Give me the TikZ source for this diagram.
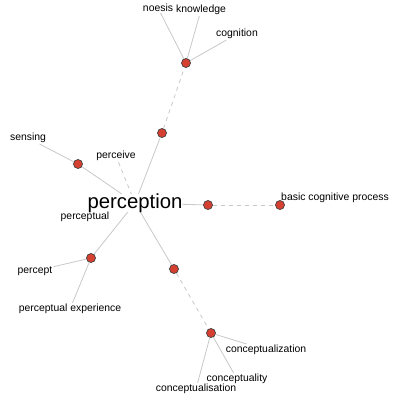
\documentclass[tikz,border=0pt]{standalone}
\usepackage{fontspec}
\setmainfont{Liberation Sans}
\usepackage{tikz}
\usetikzlibrary{backgrounds}
\definecolor{dotred}{RGB}{214,64,48}
\definecolor{linegray}{RGB}{200,200,200}

\begin{document}
\begin{tikzpicture}[x=1pt,y=-1pt,
		dot/.style={circle, draw=black!75, fill=dotred, line width=0.7pt, minimum size=9pt, inner sep=0pt},
		lbl/.style={inner sep=1pt, font=\fontsize{10.4}{12}\selectfont},
		link/.style={draw=linegray, line width=0.8pt},
		weak/.style={link, dash pattern=on 4pt off 4pt}]
				\useasboundingbox (0,0) rectangle (400,400);
				% hubs
				\node[dot] (cogHub)  at (186,63)  {};
				\node[dot] (cogMid)  at (162,133) {};
				\node[dot] (sensDot) at (78,164)  {};
				\node[dot] (basMid)  at (208,205) {};
				\node[dot] (basHub)  at (280,205) {};
				\node[dot] (pctHub)  at (91,258)  {};
				\node[dot] (conMid)  at (174,269) {};
				\node[dot] (conHub)  at (211,333) {};
				% centre word
				\node[fill=white, inner sep=0pt, font=\fontsize{20.3}{24}\selectfont] (percep) at (135,203) {perception};
				% labels
				\node[lbl] (noesis)    at (158,8)   {noesis};
				\node[lbl] (knowledge) at (201,10)  {knowledge};
				\node[lbl] (cognition) at (237,34)  {cognition};
				\node[lbl] (sensing)   at (28,138)  {sensing};
				\node[lbl] (perceive)  at (116,156) {perceive};
				\node[lbl] (perceptual) at (85,217) {perceptual};
				\node[lbl] (basic)     at (335,198) {basic cognitive process};
				\node[lbl] (percept)   at (35,271)  {percept};
				\node[lbl] (pctExp)    at (70,309)  {perceptual experience};
				\node[lbl] (conZ)      at (266,350) {conceptualization};
				\node[lbl] (conY)      at (237,379) {conceptuality};
				\node[lbl] (conS)      at (196,389) {conceptualisation};

				\begin{scope}[on background layer]
				\draw[link] (percep.center) -- (cogMid);
				\draw[weak] (cogMid) -- (cogHub);
				\draw[link] (cogHub) -- (noesis);
				\draw[link] (cogHub) -- (knowledge);
				\draw[link] (cogHub) -- (cognition);
				\draw[link] (percep.center) -- (sensDot) -- (sensing);
				\draw[weak] (percep.center) -- (perceive);
				\draw[link] (percep.center) -- (perceptual);
				\draw[link] (percep.center) -- (basMid);
				\draw[weak] (basMid) -- (basHub);
				\draw[link] (percep.center) -- (pctHub);
				\draw[link] (pctHub) -- (percept);
				\draw[link] (pctHub) -- (pctExp);
				\draw[link] (percep.center) -- (conMid);
				\draw[weak] (conMid) -- (conHub);
				\draw[link] (conHub) -- (conZ);
				\draw[link] (conHub) -- (conY);
				\draw[link] (conHub) -- (conS);
				\end{scope}
				\end{tikzpicture}
\end{document}
